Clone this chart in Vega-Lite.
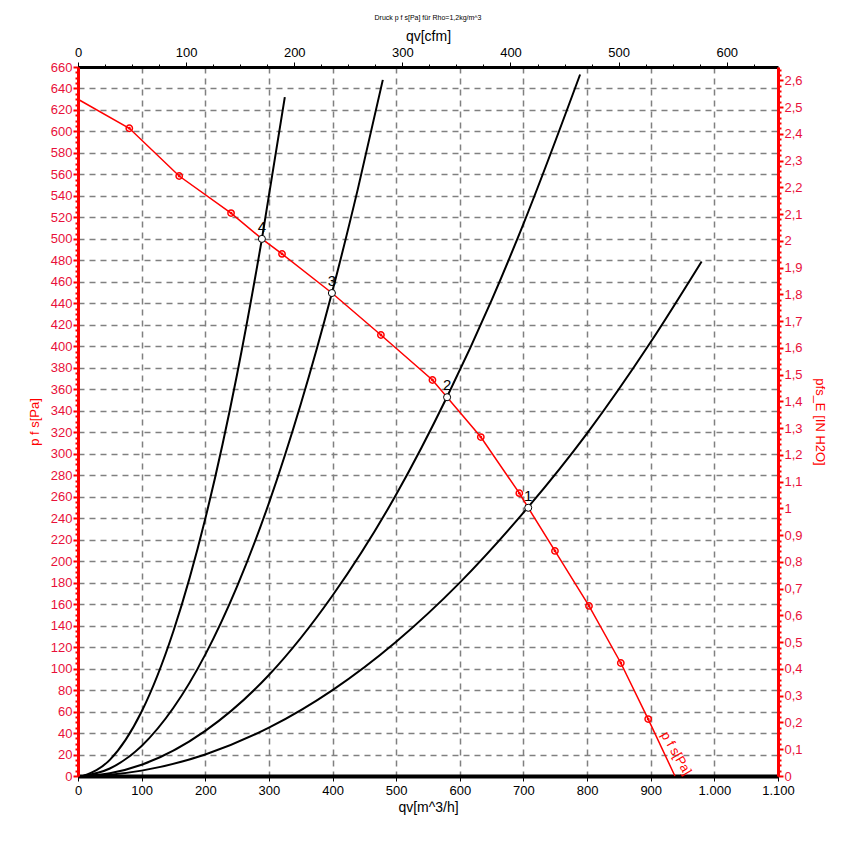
{
  "$schema": "https://vega.github.io/schema/vega-lite/v6.json",
  "width": 700,
  "height": 709,
  "autosize": {"type": "none"},
  "padding": {"left": 78, "top": 67, "right": 73, "bottom": 74},
  "background": "white",
  "title": {"text": "Druck p f s[Pa] für Rho=1,2kg/m^3", "fontSize": 7, "font": "Liberation Sans", "fontWeight": "normal", "color": "black", "anchor": "middle", "frame": "group", "offset": 8},
  "config": {
    "view": {"stroke": null},
    "font": "Liberation Sans",
    "axis": {"labelFont": "Liberation Sans", "labelFontSize": 13, "titleFont": "Liberation Sans", "titleFontWeight": "normal", "titleFontSize": 14, "labelOverlap": false, "labelFlush": false, "labelBound": false}
  },
  "datasets": {
    "system": [
      {"curve": "1", "q": 8, "p": 0}, {"curve": "1", "q": 50, "p": 1.2}, {"curve": "1", "q": 100, "p": 5}, {"curve": "1", "q": 200, "p": 20}, {"curve": "1", "q": 300, "p": 45}, {"curve": "1", "q": 400, "p": 80}, {"curve": "1", "q": 500, "p": 125}, {"curve": "1", "q": 600, "p": 180}, {"curve": "1", "q": 707, "p": 250}, {"curve": "1", "q": 800, "p": 319}, {"curve": "1", "q": 900, "p": 404}, {"curve": "1", "q": 980, "p": 479},
      {"curve": "2", "q": 8, "p": 0}, {"curve": "2", "q": 50, "p": 2.6}, {"curve": "2", "q": 100, "p": 10.5}, {"curve": "2", "q": 200, "p": 42}, {"curve": "2", "q": 300, "p": 94}, {"curve": "2", "q": 400, "p": 168}, {"curve": "2", "q": 500, "p": 262}, {"curve": "2", "q": 580, "p": 353}, {"curve": "2", "q": 650, "p": 443}, {"curve": "2", "q": 700, "p": 514}, {"curve": "2", "q": 789, "p": 653},
      {"curve": "3", "q": 8, "p": 0}, {"curve": "3", "q": 50, "p": 7}, {"curve": "3", "q": 100, "p": 28}, {"curve": "3", "q": 150, "p": 63.5}, {"curve": "3", "q": 200, "p": 113}, {"curve": "3", "q": 250, "p": 176.5}, {"curve": "3", "q": 300, "p": 254}, {"curve": "3", "q": 350, "p": 346}, {"curve": "3", "q": 399, "p": 449.6}, {"curve": "3", "q": 440, "p": 547}, {"curve": "3", "q": 479, "p": 648},
      {"curve": "4", "q": 8, "p": 0}, {"curve": "4", "q": 50, "p": 15}, {"curve": "4", "q": 100, "p": 60}, {"curve": "4", "q": 150, "p": 135}, {"curve": "4", "q": 200, "p": 239.5}, {"curve": "4", "q": 250, "p": 374}, {"curve": "4", "q": 289, "p": 500}, {"curve": "4", "q": 325, "p": 632}
    ],
    "fan": [
      {"q": 0, "p": 630}, {"q": 80.6, "p": 603}, {"q": 159, "p": 558.5}, {"q": 240.5, "p": 524}, {"q": 289, "p": 500}, {"q": 320.6, "p": 486}, {"q": 399, "p": 449.6}, {"q": 476, "p": 410.5}, {"q": 557, "p": 368.6}, {"q": 580, "p": 352.6}, {"q": 633, "p": 315.5}, {"q": 693.5, "p": 263.3}, {"q": 707.5, "p": 249.7}, {"q": 749.5, "p": 209.5}, {"q": 803, "p": 158.3}, {"q": 853, "p": 105.2}, {"q": 896, "p": 53}, {"q": 938, "p": 0}
    ],
    "markers": [
      {"q": 80.6, "p": 603}, {"q": 159, "p": 558.5}, {"q": 240.5, "p": 524}, {"q": 320.6, "p": 486}, {"q": 476, "p": 410.5}, {"q": 557, "p": 368.6}, {"q": 633, "p": 315.5}, {"q": 693.5, "p": 263.3}, {"q": 749.5, "p": 209.5}, {"q": 803, "p": 158.3}, {"q": 853, "p": 105.2}, {"q": 896, "p": 53}
    ],
    "ops": [
      {"id": "1", "q": 707.5, "p": 249.7}, {"id": "2", "q": 580, "p": 352.6}, {"id": "3", "q": 399, "p": 449.6}, {"id": "4", "q": 289, "p": 500}
    ],
    "curvelabel": [{"q": 940, "p": 21, "label": "p f s[Pa]"}],
    "extent": [{"cfm": 0, "inh2o": 0}, {"cfm": 647.4, "inh2o": 2.6497}]
  },
  "layer": [
    {
      "layer": [
        {
          "data": {"name": "system"},
          "mark": {"type": "line", "color": "black", "strokeWidth": 2, "interpolate": "monotone"},
          "encoding": {
            "x": {"field": "q", "type": "quantitative", "scale": {"domain": [0, 1100], "nice": false},
              "axis": {"orient": "bottom", "title": "qv[m^3/h]", "titleColor": "black", "titlePadding": 3,
                "values": [0,25,50,75,100,125,150,175,200,225,250,275,300,325,350,375,400,425,450,475,500,525,550,575,600,625,650,675,700,725,750,775,800,825,850,875,900,925,950,975,1000,1025,1050,1075,1100],
                "labelExpr": "datum.value % 100 ? '' : replace(format(datum.value, ','), ',', '.')",
                "labelColor": "black", "labelPadding": 3,
                "domainColor": "black", "domainWidth": 4,
                "tickColor": "black", "tickWidth": 1, "tickSize": {"condition": {"test": "datum.value % 100 === 0", "value": 5}, "value": 3},
                "grid": true, "gridColor": "#808080", "gridWidth": 1.5, "gridDash": [6, 5],
                "gridOpacity": {"condition": {"test": "datum.value % 100 !== 0", "value": 0}, "value": 1}}},
            "y": {"field": "p", "type": "quantitative", "scale": {"domain": [0, 660], "nice": false},
              "axis": {"orient": "left", "title": "p f s[Pa]", "titleColor": "red", "titleFontSize": 13, "titlePadding": 9,
                "tickCount": 132,
                "labelExpr": "datum.value % 20 ? '' : datum.label",
                "labelColor": "#e8103a", "labelPadding": 1,
                "domainColor": "red", "domainWidth": 3,
                "tickColor": "red", "tickWidth": 2, "tickSize": {"condition": {"test": "datum.value % 20 === 0", "value": 5}, "value": 3},
                "grid": true, "gridColor": "#808080", "gridWidth": 1.5, "gridDash": [6, 5],
                "gridOpacity": {"condition": {"test": "datum.value % 20 !== 0", "value": 0}, "value": 1}}},
            "detail": {"field": "curve"}
          }
        },
        {
          "data": {"name": "fan"},
          "mark": {"type": "line", "color": "red", "strokeWidth": 1.5},
          "encoding": {"x": {"field": "q", "type": "quantitative"}, "y": {"field": "p", "type": "quantitative"}}
        },
        {
          "data": {"name": "markers"},
          "mark": {"type": "point", "filled": false, "stroke": "red", "strokeWidth": 1.5, "size": 40, "opacity": 1},
          "encoding": {"x": {"field": "q", "type": "quantitative"}, "y": {"field": "p", "type": "quantitative"}}
        },
        {
          "data": {"name": "markers"},
          "mark": {"type": "point", "filled": true, "color": "red", "size": 8, "opacity": 1},
          "encoding": {"x": {"field": "q", "type": "quantitative"}, "y": {"field": "p", "type": "quantitative"}}
        },
        {
          "data": {"name": "ops"},
          "mark": {"type": "point", "filled": true, "fill": "white", "stroke": "black", "strokeWidth": 1, "size": 50, "opacity": 1},
          "encoding": {"x": {"field": "q", "type": "quantitative"}, "y": {"field": "p", "type": "quantitative"}}
        },
        {
          "data": {"name": "ops"},
          "mark": {"type": "text", "color": "black", "fontSize": 15, "font": "Liberation Sans", "dy": -12, "align": "center", "baseline": "middle"},
          "encoding": {"x": {"field": "q", "type": "quantitative"}, "y": {"field": "p", "type": "quantitative"}, "text": {"field": "id"}}
        },
        {
          "data": {"name": "curvelabel"},
          "mark": {"type": "text", "color": "red", "fontSize": 13, "font": "Liberation Sans", "angle": 60, "align": "center", "baseline": "middle"},
          "encoding": {"x": {"field": "q", "type": "quantitative"}, "y": {"field": "p", "type": "quantitative"}, "text": {"field": "label"}}
        }
      ]
    },
    {
      "data": {"name": "extent"},
      "mark": {"type": "point", "opacity": 0},
      "encoding": {
        "x": {"field": "cfm", "type": "quantitative", "scale": {"domain": [0, 647.4], "nice": false},
          "axis": {"orient": "top", "title": "qv[cfm]", "titleColor": "black", "titlePadding": 3,
            "values": [0,25,50,75,100,125,150,175,200,225,250,275,300,325,350,375,400,425,450,475,500,525,550,575,600,625],
            "labelExpr": "datum.value % 100 ? '' : datum.label",
            "labelColor": "black", "labelPadding": 3,
            "domainColor": "black", "domainWidth": 3,
            "tickColor": "black", "tickWidth": 1, "tickSize": {"condition": {"test": "datum.value % 100 === 0", "value": 5}, "value": 3},
            "grid": false}},
        "y": {"field": "inh2o", "type": "quantitative", "scale": {"domain": [0, 2.6497], "nice": false},
          "axis": {"orient": "right", "title": "pfs_E [IN H2O]", "titleColor": "red", "titleFontSize": 13, "titlePadding": 10,
            "tickCount": 132,
            "labelExpr": "abs(datum.value * 10 - round(datum.value * 10)) < 0.001 ? replace(format(datum.value, '.1~f'), '.', ',') : ''",
            "labelColor": "#e8103a", "labelPadding": 1,
            "domainColor": "red", "domainWidth": 3,
            "tickColor": "red", "tickWidth": 2, "tickSize": {"condition": {"test": "abs(datum.value * 10 - round(datum.value * 10)) < 0.001", "value": 5}, "value": 3},
            "grid": false}}
      }
    }
  ],
  "resolve": {"scale": {"x": "independent", "y": "independent"}}
}
